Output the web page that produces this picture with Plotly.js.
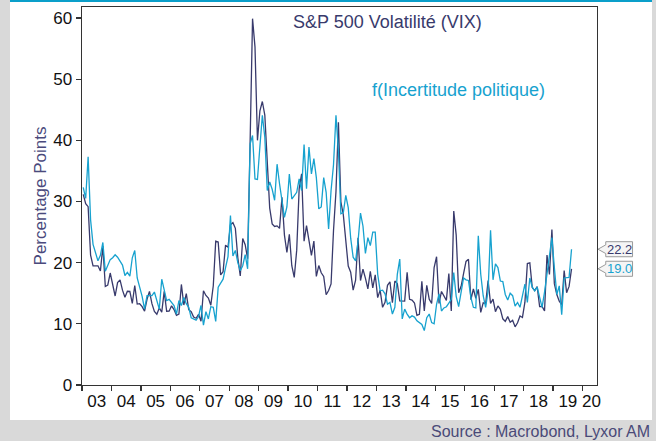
<!DOCTYPE html>
<html>
<head>
<meta charset="utf-8">
<script src="https://cdn.plot.ly/plotly-3.0.1.min.js"></script>
<style>
  html, body { margin:0; padding:0; }
  body { width:656px; height:441px; background:#d9d9d9; position:relative; overflow:hidden; }
  #panel { position:absolute; left:10px; top:0; width:642px; height:420px; background:#ffffff; }
  #bar { position:absolute; left:10px; top:0; width:642px; height:2px; background:#0a9fca; }
  #chart { position:absolute; left:0; top:0; width:656px; height:441px; }
</style>
</head>
<body>
<div id="panel"></div>
<div id="bar"></div>
<div id="chart"></div>
<script>
// ---- data (monthly, Jan 2003 .. Aug 2019) ----
const startYear = 2003;
const vix = [
  31.17,29.63,29.15,21.21,19.47,19.52,19.49,18.63,22.72,16.10,16.32,18.31,
  16.63,14.55,16.74,17.19,15.50,14.34,15.32,15.29,13.34,16.27,13.24,13.29,
  12.82,12.08,14.02,15.31,13.29,12.04,11.57,12.60,11.92,15.32,12.06,12.07,
  12.95,12.34,11.39,11.59,16.44,13.08,14.95,12.31,11.98,11.10,10.91,11.56,
  10.42,15.42,14.64,14.22,13.05,16.23,23.52,23.38,18.00,18.53,22.87,22.50,
  26.20,26.54,25.61,20.79,17.83,23.95,22.94,20.65,39.39,59.89,55.28,40.00,
  44.84,46.35,44.14,36.50,28.92,26.35,25.92,26.01,25.61,30.69,24.51,21.68,
  24.62,19.50,17.59,22.05,32.07,34.54,23.50,26.05,23.70,21.20,23.54,17.75,
  19.53,18.35,17.74,14.75,15.45,16.52,25.25,31.62,42.96,29.96,27.80,23.40,
  19.44,18.43,15.50,17.15,24.06,17.08,18.93,17.47,15.73,18.60,15.87,18.02,
  14.28,15.51,12.70,13.52,16.30,16.86,13.45,17.01,16.60,13.75,13.70,13.72,
  18.41,14.00,13.88,13.41,11.40,11.57,16.95,12.09,16.31,14.03,13.33,19.20,
  20.97,13.34,15.29,14.55,13.84,18.23,12.12,28.43,24.50,15.07,16.13,18.21,
  20.20,20.55,13.95,15.70,14.19,15.63,11.87,13.42,13.29,17.06,13.33,14.04,
  11.99,12.92,12.37,10.82,10.41,11.18,10.26,10.59,9.51,10.18,11.28,11.04,
  13.54,19.85,19.97,15.93,15.43,16.09,12.83,12.86,12.12,21.23,18.07,25.42,
  16.57,14.78,13.71,13.12,18.71,15.08,16.12,18.98
];
const policy = [
  32.3,30.5,37.3,27.0,23.0,21.5,20.3,21.2,23.3,18.6,19.6,20.5,
  20.8,21.3,20.9,20.3,19.6,17.9,18.4,17.8,20.8,22.0,17.5,16.0,
  14.5,12.4,14.6,14.6,14.6,15.2,13.6,12.4,17.3,15.3,13.8,14.0,
  13.5,13.0,11.6,13.8,13.0,14.3,13.3,12.7,11.0,10.8,10.6,11.2,
  13.0,9.8,12.0,10.8,12.8,12.7,10.4,16.0,16.6,17.3,19.2,21.0,
  27.7,21.1,22.0,20.0,18.7,19.5,21.3,19.0,39.4,40.8,33.7,33.6,
  39.0,44.1,40.5,31.8,33.2,32.0,30.2,36.1,32.9,30.5,27.4,29.1,
  34.5,30.4,30.9,31.5,33.7,31.8,39.3,32.1,38.9,34.5,37.0,33.9,
  28.8,29.1,33.9,31.5,25.5,31.8,36.0,44.1,38.4,28.0,28.2,31.0,
  29.0,24.0,20.9,20.3,23.5,28.1,26.0,21.5,24.1,22.8,25.0,25.0,
  18.1,15.4,15.5,14.9,13.2,13.5,11.6,12.7,18.1,20.6,10.8,12.4,
  11.6,11.0,11.3,11.1,10.5,10.2,9.9,8.9,11.0,11.6,10.2,10.0,
  13.2,14.9,12.1,12.6,12.8,13.4,14.0,18.4,14.5,12.8,15.2,17.5,
  17.2,17.1,14.3,12.7,12.6,24.4,18.1,14.6,12.7,15.4,25.3,17.2,
  19.8,19.2,17.0,16.9,14.8,13.9,15.0,14.6,12.9,13.5,12.7,14.6,
  16.5,13.5,17.5,16.0,15.4,16.0,14.3,12.7,15.2,18.4,21.7,24.1,
  19.2,14.8,16.2,11.5,17.5,17.5,17.6,22.2
];
const yearLabels = ['03','04','05','06','07','08','09','10','11','12','13','14','15','16','17','18','19','20'];
const yearTicks  = [2003,2004,2005,2006,2007,2008,2009,2010,2011,2012,2013,2014,2015,2016,2017,2018,2019,2020];
const labelPos   = [2003.5,2004.5,2005.5,2006.5,2007.5,2008.5,2009.5,2010.5,2011.5,2012.5,2013.5,2014.5,2015.5,2016.5,2017.5,2018.5,2019.5,2020.3];
const seriesNames = ['S&P 500 Volatilité (VIX)', 'f(Incertitude politique)'];
const lastLabels = ['22.2', '19.0'];

// ---- styling ----
const NAVY = '#383a6c';
const CYAN = '#17a2cf';
const YMAX = 61.8;

const xs = vix.map((_, i) => startYear + (i + 0.5) / 12);
const xp = policy.map((_, i) => startYear + (i + 0.5) / 12);

const traces = [
  {x: xs, y: vix, type: 'scatter', mode: 'lines', name: seriesNames[0],
   line: {color: NAVY, width: 1.3}},
  {x: xp, y: policy, type: 'scatter', mode: 'lines', name: seriesNames[1],
   line: {color: CYAN, width: 1.3}}
];

// callout boxes at the right edge (paper coords)
function callout(v) {
  const y = v / YMAX, h = 0.0199, n = 0.0115;
  const tip = 1.002, l = 1.017, r = 1.069;
  return {type: 'path', xref: 'paper', yref: 'paper',
    path: `M ${tip} ${y} L ${l} ${y + n} L ${l} ${y + h} L ${r} ${y + h} L ${r} ${y - h} L ${l} ${y - h} L ${l} ${y - n} Z`,
    line: {color: '#9a9a9a', width: 1}, fillcolor: '#f5f5f5', layer: 'above'};
}
const v1 = parseFloat(lastLabels[0]), v2 = parseFloat(lastLabels[1]);

const layout = {
  width: 656, height: 441,
  margin: {l: 82, r: 59, t: 7, b: 56, pad: 0},
  paper_bgcolor: 'rgba(0,0,0,0)', plot_bgcolor: '#ffffff',
  showlegend: false,
  font: {family: '"Liberation Sans", Arial, sans-serif', size: 17, color: '#111111'},
  xaxis: {
    range: [2003, 2020.49], showgrid: false, zeroline: false,
    showline: true, linecolor: '#333333', linewidth: 1.4, mirror: true,
    tickmode: 'array', tickvals: labelPos, ticktext: yearLabels, ticks: '',
    tickfont: {size: 17, color: '#111111'},
    minor: {tickmode: 'array', tickvals: yearTicks, ticks: 'outside', ticklen: 5,
            tickwidth: 1.3, tickcolor: '#333333', showgrid: false}
  },
  yaxis: {
    range: [0, YMAX], tickmode: 'linear', tick0: 0, dtick: 10,
    showgrid: false, zeroline: false,
    showline: true, linecolor: '#333333', linewidth: 1.4, mirror: true,
    ticks: 'outside', ticklen: 5, tickwidth: 1.3, tickcolor: '#333333',
    tickfont: {size: 17, color: '#111111'},
    title: {text: 'Percentage Points', font: {size: 17, color: '#4a4a7c'}, standoff: 2}
  },
  shapes: [callout(v1), callout(v2)],
  annotations: [
    {text: seriesNames[0], xref: 'paper', yref: 'paper', x: 0.4052, y: 0.9603,
     xanchor: 'left', yanchor: 'middle', showarrow: false,
     font: {size: 18, color: NAVY}},
    {text: seriesNames[1], xref: 'paper', yref: 'paper', x: 0.5592, y: 0.7804,
     xanchor: 'left', yanchor: 'middle', showarrow: false,
     font: {size: 18, color: CYAN}},
    {text: lastLabels[0], xref: 'paper', yref: 'paper', x: 1.043, y: v1 / YMAX,
     xanchor: 'center', yanchor: 'middle', showarrow: false,
     font: {size: 13, color: NAVY}},
    {text: lastLabels[1], xref: 'paper', yref: 'paper', x: 1.043, y: v2 / YMAX,
     xanchor: 'center', yanchor: 'middle', showarrow: false,
     font: {size: 13, color: CYAN}},
    {text: 'Source : Macrobond, Lyxor AM', xref: 'paper', yref: 'paper',
     x: 1.1068, y: -0.1243, xanchor: 'right', yanchor: 'middle', showarrow: false,
     font: {size: 16, color: '#4a4a78'}}
  ]
};

Plotly.newPlot('chart', traces, layout, {displayModeBar: false, staticPlot: true});
</script>
</body>
</html>
